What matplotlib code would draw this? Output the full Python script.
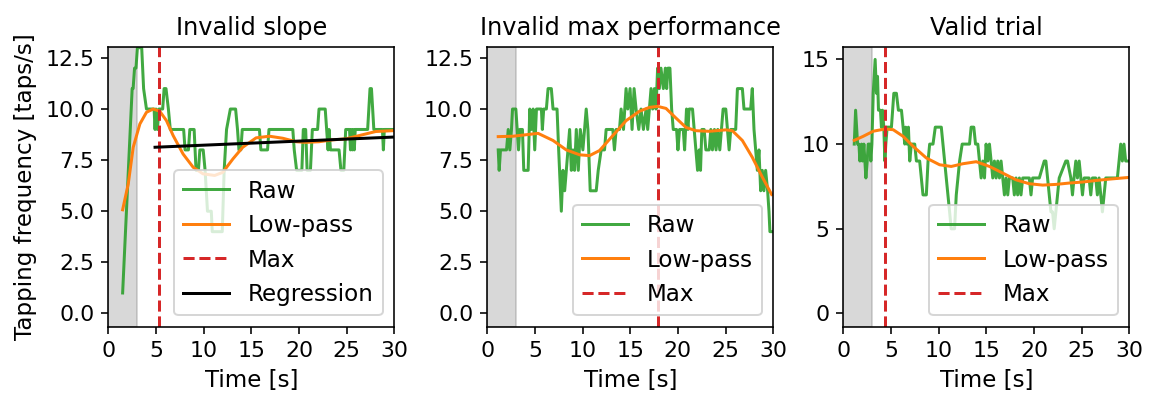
import numpy as np
import matplotlib
matplotlib.use("Agg")
import matplotlib.pyplot as plt

# --- Invalid slope ---
slope_raw_t = [1.5, 2.5, 2.6, 2.75, 2.9, 3.05, 3.5, 3.7, 4.0, 4.8, 4.9, 5.0, 5.15, 5.3,
               5.7, 5.85, 6.05, 6.3, 6.5, 7.9, 8.05, 8.4, 8.55, 9.0, 9.2, 9.45, 9.6,
               9.95, 10.15, 10.4, 10.8, 10.9, 11.95, 12.15, 12.4, 12.8, 13.35, 13.55,
               13.7, 13.9, 14.05, 15.85, 16.0, 16.7, 16.85, 19.35, 19.5, 19.75, 20.3,
               20.45, 20.7, 20.85, 21.2, 21.4, 21.95, 22.1, 22.75, 22.9, 23.05, 23.15,
               23.3, 24.2, 24.4, 24.7, 24.9, 25.3, 25.4, 25.5, 25.6, 25.7, 25.8, 25.9,
               27.2, 27.45, 27.6, 27.85, 28.75, 28.85, 28.95, 30.0]
slope_raw_v = [1, 11, 11, 12, 12, 13, 13, 11, 10, 10, 9, 10, 9, 10,
               10, 11, 11, 10, 9, 9, 8, 8, 9, 9, 7, 7, 8,
               8, 7, 5, 5, 4, 4, 7, 9, 10, 10, 9,
               8, 8, 9, 9, 8, 8, 9, 9, 8, 7, 7,
               9, 9, 7, 7, 9, 9, 10, 10, 9, 8, 9,
               8, 8, 7, 7, 9, 9, 8, 9, 8, 9, 8, 9,
               9, 11, 11, 9, 9, 8, 9, 9]
slope_lp_t = [1.5, 2.09, 2.61, 3.31, 4.0, 4.7, 5.4, 6.1, 6.8, 7.84, 8.9, 9.93, 11.15,
              12.0, 13.07, 14.1, 15.5, 16.9, 18.3, 19.7, 20.7, 22.1, 23.5, 24.9,
              26.3, 28.05, 29.8]
slope_lp_v = [5.07, 6.34, 8.13, 9.27, 9.84, 10.0, 9.89, 9.43, 8.7, 7.8, 7.15, 6.83, 6.75,
              6.9, 7.56, 8.13, 8.59, 8.67, 8.57, 8.4, 8.37, 8.4, 8.49, 8.54,
              8.7, 8.9, 8.94]
slope_max_t = 5.3
slope_reg_t = [4.9, 30.0]
slope_reg_v = [8.13, 8.63]

# --- Invalid max performance ---
maxperf_raw_t = [1.15, 1.25, 1.39, 2.02, 2.2, 2.37, 2.54, 2.65, 3.0, 3.14, 3.28, 3.41,
                 3.69, 3.83, 4.29, 4.46, 4.63, 4.81, 4.98, 5.16, 5.68, 5.78, 5.92, 6.2,
                 6.38, 6.72, 6.9, 7.32, 7.49, 7.77, 7.94, 8.12, 8.29, 8.47, 8.64, 8.82,
                 8.99, 9.16, 9.34, 9.55, 9.76, 10.03, 10.38, 10.56, 10.8, 11.43, 11.64,
                 11.95, 12.3, 12.47, 13.17, 13.34, 13.52, 13.87, 14.04, 14.29, 14.56,
                 14.74, 14.98, 15.19, 15.4, 15.61, 15.89, 16.13, 16.38, 16.66, 16.83,
                 17.0, 17.18, 17.35, 17.53, 17.7, 17.87, 18.05, 18.22, 18.47, 18.68,
                 18.82, 18.95, 19.16, 19.34, 19.51, 19.86, 20.0, 20.17, 20.56, 20.7,
                 20.9, 21.05, 21.18, 21.53, 21.71, 21.88, 22.06, 22.23, 22.37, 22.51,
                 22.75, 22.93, 23.28, 23.45, 23.62, 23.83, 24.0, 24.18, 24.39, 24.56,
                 24.74, 25.02, 25.19, 25.37, 25.54, 26.06, 26.24, 26.76, 26.93, 27.63,
                 27.8, 27.98, 28.15, 28.33, 28.5, 28.68, 28.85, 29.02, 29.2, 29.41,
                 29.55, 29.65, 29.9]
maxperf_raw_v = [8, 7, 8, 8, 9, 8, 9, 10, 10, 9, 8, 9,
                 9, 7, 7, 10, 9, 10, 8, 10, 10, 9, 10, 10,
                 11, 11, 10, 10, 8, 5, 7, 6, 7, 8, 9, 7,
                 8, 7, 9, 7, 9, 8, 10, 9, 6, 6, 7,
                 8, 8, 9, 9, 8, 9, 9, 10, 9, 11,
                 10, 11, 9, 11, 10, 9, 10, 9, 10, 9,
                 10, 11, 10, 11, 10, 12, 11, 12, 11, 12,
                 11, 12, 12, 10, 9, 9, 8, 9, 9, 8,
                 10, 9, 10, 10, 9, 8, 7, 8, 7, 9,
                 9, 8, 8, 9, 8, 9, 8, 9, 8, 9,
                 10, 10, 9, 8, 9, 9, 11, 11, 10, 10,
                 11, 9, 8, 7, 8, 6, 7, 6, 7, 6,
                 5, 4, 4]
maxperf_lp_t = [1.15, 2.72, 5.33, 6.9, 8.29, 9.69, 10.73, 11.78, 13.17, 14.56, 15.96,
                17.0, 17.87, 18.75, 19.79, 20.84, 21.88, 23.28, 25.02, 25.71, 26.76,
                27.8, 28.85, 29.83]
maxperf_lp_v = [8.65, 8.67, 8.81, 8.46, 8.0, 7.76, 7.72, 7.97, 8.7, 9.43, 9.89,
                10.08, 10.13, 10.03, 9.56, 9.1, 8.94, 8.91, 8.98, 8.94, 8.46,
                7.64, 6.67, 5.82]
maxperf_max_t = 17.9

# --- Valid trial ---
valid_raw_t = [1.15, 1.29, 1.39, 1.5, 1.64, 1.74, 1.92, 2.02, 2.16, 2.27, 2.37, 2.51,
               2.61, 2.79, 2.89, 3.0, 3.14, 3.34, 3.48, 3.59, 3.69, 3.9, 4.0, 4.11,
               4.25, 4.36, 4.46, 4.6, 4.81, 5.05, 5.3, 5.57, 5.78, 6.1, 6.27, 6.45,
               6.55, 6.69, 6.83, 6.97, 7.14, 7.49, 7.67, 8.01, 8.19, 8.36, 8.71, 8.89,
               9.06, 9.41, 9.65, 10.28, 10.45, 10.63, 10.8, 10.98, 11.15, 11.32, 11.67,
               11.85, 12.02, 12.2, 12.47, 13.24, 13.41, 13.69, 13.87, 14.11, 14.29,
               14.46, 14.63, 14.81, 14.98, 15.16, 15.33, 15.5, 15.68, 15.85, 16.03,
               16.2, 16.38, 16.55, 16.72, 16.9, 17.07, 17.25, 17.42, 17.77, 17.94,
               18.12, 18.29, 18.47, 18.64, 18.82, 19.51, 19.69, 19.86, 20.56, 21.08,
               21.25, 21.43, 21.6, 21.78, 21.95, 22.12, 22.3, 22.47, 22.65, 23.34,
               23.52, 23.87, 24.04, 24.2, 24.39, 24.56, 24.74, 24.91, 25.09, 25.26,
               25.78, 25.96, 26.13, 26.48, 26.65, 26.83, 27.0, 27.18, 27.35, 27.53,
               28.75, 28.92, 29.1, 29.27, 29.44, 29.62, 29.9]
valid_raw_v = [10, 12, 11, 10, 10, 9, 10, 9, 10, 9, 8, 9,
               10, 10, 9, 10, 13, 15, 13, 14, 12, 12, 11, 12,
               11, 9, 10, 11, 11, 11, 13, 13, 12, 12, 11, 10,
               11, 10, 11, 9, 10, 10, 9, 9, 8, 7, 7, 9,
               10, 10, 11, 11, 10, 9, 8, 7, 6, 5, 5,
               7, 8, 9, 10, 10, 11, 11, 10, 10, 9,
               8, 9, 8, 10, 9, 10, 9, 8, 9, 8,
               9, 8, 9, 8, 7, 8, 7, 8, 8, 7,
               8, 7, 8, 7, 8, 8, 7, 8, 8, 9,
               9, 8, 7, 6, 6, 5, 6, 7, 8, 9,
               9, 8, 7, 8, 9, 8, 9, 8, 7, 8,
               8, 7, 8, 8, 7, 8, 7, 6, 7, 8,
               8, 9, 10, 9, 10, 9, 9]
valid_lp_t = [1.15, 2.09, 3.14, 4.36, 5.23, 6.27, 7.32, 8.71, 10.1, 11.32, 12.54,
              13.94, 15.33, 16.72, 18.12, 19.51, 20.91, 22.3, 23.69, 25.09, 26.48,
              27.87, 29.9]
valid_lp_v = [10.22, 10.46, 10.76, 10.89, 10.85, 10.46, 9.87, 9.18, 8.78, 8.68, 8.84,
              8.96, 8.68, 8.29, 7.89, 7.66, 7.58, 7.62, 7.7, 7.76, 7.85,
              7.93, 8.03]
valid_max_t = 4.36

titles = ["Invalid slope", "Invalid max performance", "Valid trial"]
calib_end = 3.0

plt.rcParams["font.size"] = 11.5
plt.rcParams["xtick.labelsize"] = 11
plt.rcParams["ytick.labelsize"] = 11
plt.rcParams["axes.titlesize"] = 12

fig = plt.figure(figsize=(1150 / 144, 394 / 144), dpi=144)
positions = [
    [0.0942, 0.1708, 0.2487, 0.7107],
    [0.4237, 0.1708, 0.2487, 0.7107],
    [0.7333, 0.1708, 0.2487, 0.7107],
]
axes = [fig.add_axes(p) for p in positions]

panels = [
    (slope_raw_t, slope_raw_v, slope_lp_t, slope_lp_v, slope_max_t),
    (maxperf_raw_t, maxperf_raw_v, maxperf_lp_t, maxperf_lp_v, maxperf_max_t),
    (valid_raw_t, valid_raw_v, valid_lp_t, valid_lp_v, valid_max_t),
]

for ax, title, (rt, rv, lt, lv, mt) in zip(axes, titles, panels):
    ax.axvspan(0, calib_end, color="grey", alpha=0.3)
    ax.plot(rt, rv, color="tab:green", alpha=0.9, label="Raw")
    ax.plot(lt, lv, color="tab:orange", label="Low-pass")
    ax.axvline(mt, color="tab:red", linestyle="--", label="Max")
    ax.set_title(title)
    ax.set_xlabel("Time [s]")
    ax.set_xlim(0, 30)
    ax.set_xticks(np.arange(0, 31, 5))

axes[0].plot(slope_reg_t, slope_reg_v, color="k", label="Regression")
axes[0].set_ylabel("Tapping frequency [taps/s]")
axes[0].set_ylim(-0.65, 13.05)
axes[1].set_ylim(-0.65, 13.05)
axes[2].set_ylim(-0.78, 15.75)
axes[0].set_yticks(np.arange(0, 12.6, 2.5))
axes[1].set_yticks(np.arange(0, 12.6, 2.5))
axes[2].set_yticks([0, 5, 10, 15])

for ax in axes:
    ax.legend(loc="lower right")

fig.savefig("out.png", dpi=144)
